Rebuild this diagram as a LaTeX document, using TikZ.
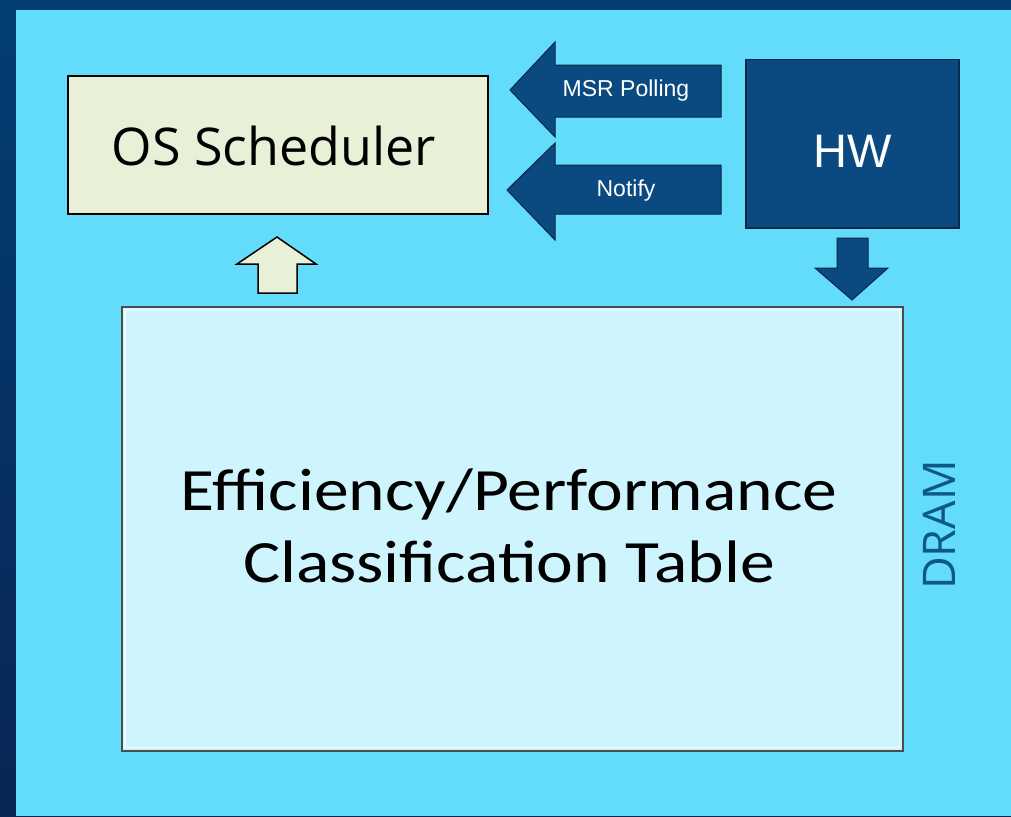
\documentclass[tikz,border=0pt]{standalone}
\usepackage{fontspec}
\setmainfont{Open Sans}
\newfontfamily\arialf{Liberation Sans}
\newfontfamily\calf[FakeStretch=1.16]{Carlito}
\definecolor{darkbg}{RGB}{4,62,116}
\definecolor{darkbgb}{RGB}{8,38,84}
\definecolor{panel}{RGB}{98,220,250}
\definecolor{beige}{RGB}{233,240,216}
\definecolor{tablef}{RGB}{206,244,253}
\definecolor{hwblue}{RGB}{11,74,128}
\definecolor{hwedge}{RGB}{8,40,70}
\definecolor{dramc}{RGB}{12,88,138}
\tikzset{
  box/.style={draw=black, line width=1.5pt, inner sep=0pt},
  blk/.style={fill=hwblue, draw=hwedge, line width=1pt, line join=miter},
  lbl/.style={text=white, font=\arialf\fontsize{23}{26}\selectfont, inner sep=0pt}
}
\begin{document}
\begin{tikzpicture}[x=1pt,y=-1pt]
\useasboundingbox (0,0) rectangle (1011,816);
\shade[top color=darkbg, bottom color=darkbgb] (0,0) rectangle (1011,816);
\fill[panel] (16,10) rectangle (1011,816);
% OS Scheduler
\node[box, fill=beige, minimum width=420pt, minimum height=138pt, anchor=north west] (os) at (67,75) {};
\node[inner sep=0pt, font=\fontsize{52}{60}\selectfont, anchor=base] (ostxt) at (274,165) {OS Scheduler};
% HW
\node[box, draw=hwedge, fill=hwblue, minimum width=213pt, minimum height=168pt, anchor=north west] (hw) at (745,59) {};
\node[inner sep=0pt, text=white, font=\arialf\fontsize{47}{54}\selectfont, anchor=base] (hwtxt) at (853,167) {HW};
% Table
\node[draw=black!70, line width=1.5pt, fill=tablef, minimum width=781pt, minimum height=444pt,
      anchor=north west, inner sep=0pt] (tab) at (121,306) {};
\draw[white, line width=1.5pt, opacity=0.6] ([shift={(4pt,-4pt)}]tab.north west) rectangle ([shift={(-4pt,4pt)}]tab.south east);
\node[inner sep=0pt, font=\calf\fontsize{60}{70}\selectfont, anchor=base] (tab1) at (509,510) {Efficiency/Performance};
\node[inner sep=0pt, font=\calf\fontsize{60}{70}\selectfont, anchor=base] (tab2) at (509,582) {Classification Table};
% DRAM
\node[rotate=90, text=dramc, font=\fontsize{45}{50}\selectfont, inner sep=0pt] (dram) at (939,525) {DRAM};
% MSR Polling arrow
\draw[blk] (721,65) -- (555,65) -- (555,42) -- (510,90) -- (555,137) -- (555,117) -- (721,117) -- cycle;
\node[lbl] (msr) at (626,91) {MSR Polling};
% Notify arrow
\draw[blk] (721,165) -- (555,165) -- (555,143) -- (507,190) -- (555,240) -- (555,214) -- (721,214) -- cycle;
\node[lbl] (ntf) at (626,191) {Notify};
% down arrow HW -> table
\coordinate (dtip) at (852,300);
\draw[blk] (837,238) -- (868,238) -- (868,268) -- (888,268) -- (dtip) -- (815,268) -- (837,268) -- cycle;
% up arrow table -> OS
\coordinate (utip) at (277,237);
\draw[fill=beige, draw=black, line width=1.5pt, line join=miter] (utip) -- (316,264) -- (297,264) -- (297,293) -- (258,293) -- (258,264) -- (237,264) -- cycle;
\end{tikzpicture}
\end{document}
